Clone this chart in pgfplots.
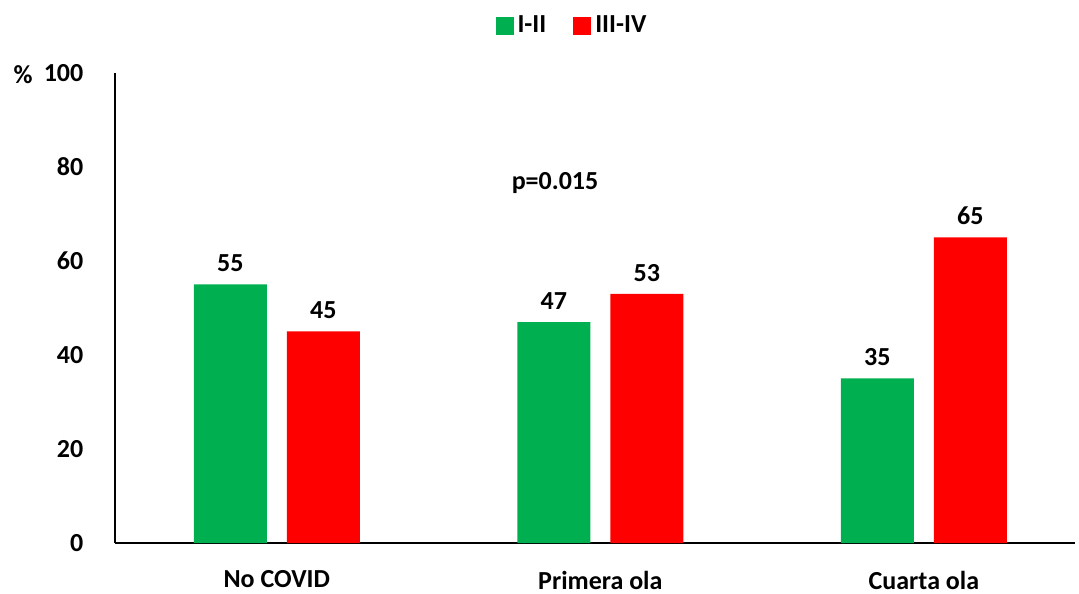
\documentclass[border=0pt]{standalone}
\usepackage{fontspec}
\setmainfont{Carlito}
\usepackage{pgfplots}
\pgfplotsset{compat=1.18}
\definecolor{cgreen}{HTML}{00B050}
\definecolor{cred}{HTML}{FF0000}
\begin{document}
\begin{tikzpicture}[font=\fontsize{13pt}{15pt}\selectfont\bfseries]
\begin{axis}[
  at={(0,0)}, anchor=south west,
  scale only axis, width=480pt, height=235pt,
  xmin=-0.5, xmax=2.467, ymin=0, ymax=100,
  axis x line=bottom, axis y line=left,
  axis line style={line width=1pt, -},
  ybar=10pt, bar width=36.5pt,
  xtick={0,1,2}, xticklabels={No COVID, Primera ola, Cuarta ola},
  ytick={0,20,40,60,80,100},
  tick style={draw=none},
  /pgf/number format/assume math mode=true,
  yticklabel style={anchor=east, inner sep=0pt, xshift=-13.5pt},
  xticklabel style={anchor=north, inner sep=0pt, yshift=-9.5pt},
  nodes near coords,
  nodes near coords style={anchor=south, inner sep=0pt, yshift=6pt},
  legend style={at={(0.477,1.101)}, anchor=center, draw=none, fill=none,
    legend columns=2, /tikz/every even column/.append style={column sep=11.5pt}},
  legend image code/.code={\fill[#1] (0pt,-4.5pt) rectangle (9pt,4.5pt);},
]
\addplot[fill=cgreen, draw=none] coordinates {(0,55) (1,47) (2,35)};
\addlegendentry{I-II}
\addplot[fill=cred, draw=none] coordinates {(0,45) (1,53) (2,65)};
\addlegendentry{III-IV}
\node at (axis cs:0.86,76.6) {p=0.015};
\end{axis}
\node at (-46pt,234pt) {\%};
\pgfresetboundingbox
\useasboundingbox (-57.5pt,-25pt) rectangle (482pt,271.5pt);
\end{tikzpicture}
\end{document}
